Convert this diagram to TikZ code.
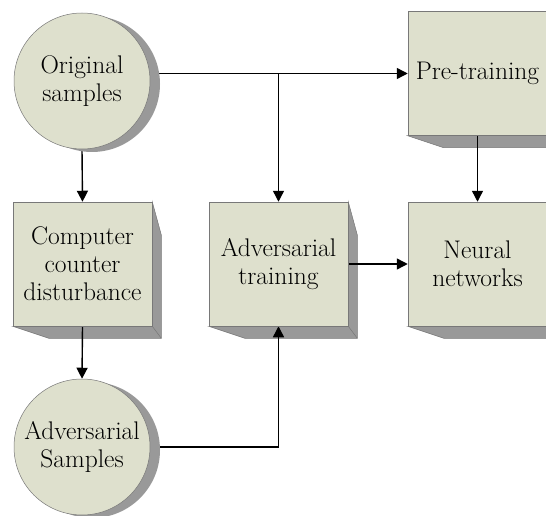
\documentclass[tikz,border=0pt]{standalone}
\usepackage{fontspec}
\definecolor{face}{RGB}{222, 224, 205}
\definecolor{shade}{RGB}{153, 153, 153}
\definecolor{edge}{RGB}{120, 120, 120}
\usepackage{tikz}
\usepackage{xcolor}
\usetikzlibrary{calc,shapes,positioning,shadows,arrows.meta}
% bevelled side and bottom of a block
\newcommand{\extrude}[1]{%
  \filldraw[fill=shade, draw=edge, line width=0.5pt] (#1.north east) -- ++(9pt,-33pt)
    -- ([xshift=9pt,yshift=-12pt]#1.south east) -- ([xshift=36pt,yshift=-12pt]#1.south west)
    -- (#1.south west) -- (#1.south east) -- cycle;
  \draw[edge, line width=0.5pt] (#1.south east) -- ++(9pt,-12pt);}

\pgfdeclarelayer{background}
\pgfsetlayers{background,main}

\begin{document}
\begin{tikzpicture}[x=1pt, y=1pt,
    font=\fontsize{25.5}{28}\selectfont,
    stage/.style={draw=edge, line width=0.5pt, fill=face, rectangle, minimum width=139pt, minimum height=124pt, inner sep=0pt, align=center},
    sample/.style={draw=edge, line width=0.5pt, fill=face, circle, minimum size=136pt, inner sep=0pt, align=center,
        drop shadow={shadow xshift=10pt, shadow yshift=-3pt, fill=shade, opacity=1}},
    arr/.style={line width=1.4pt, -{Triangle[length=11pt, width=11pt]}}]
    \useasboundingbox (0,0) rectangle (546,-516);

    \node[sample] (orig) at (82,-81) {Original\\samples};
    \node[stage] (pre) at (477.5,-73.5) {Pre-training};
    \node[stage] (ccd) at (82.5,-264) {Computer\\counter\\disturbance};
    \node[stage] (at) at (278.5,-264) {Adversarial\\training};
    \node[stage] (nn) at (477.5,-264) {Neural\\networks};
    \node[sample] (advs) at (82,-447) {Adversarial\\Samples};

    \begin{pgfonlayer}{background}
        \extrude{pre}
        \extrude{ccd}
        \extrude{at}
        \extrude{nn}

        \draw[arr] (orig.east |- pre.west) -- (pre.west);
        \draw[arr] (at.north |- pre.west) -- (at.north);
        \draw[arr] (orig.south) -- (ccd.north);
        \draw[arr] (ccd.south) -- (advs.north);
        \draw[arr] (advs.east) -| (at.south);
        \draw[arr] (at.east) -- (nn.west);
        \draw[arr] (pre.south) -- (nn.north);
    \end{pgfonlayer}
\end{tikzpicture}
\end{document}
